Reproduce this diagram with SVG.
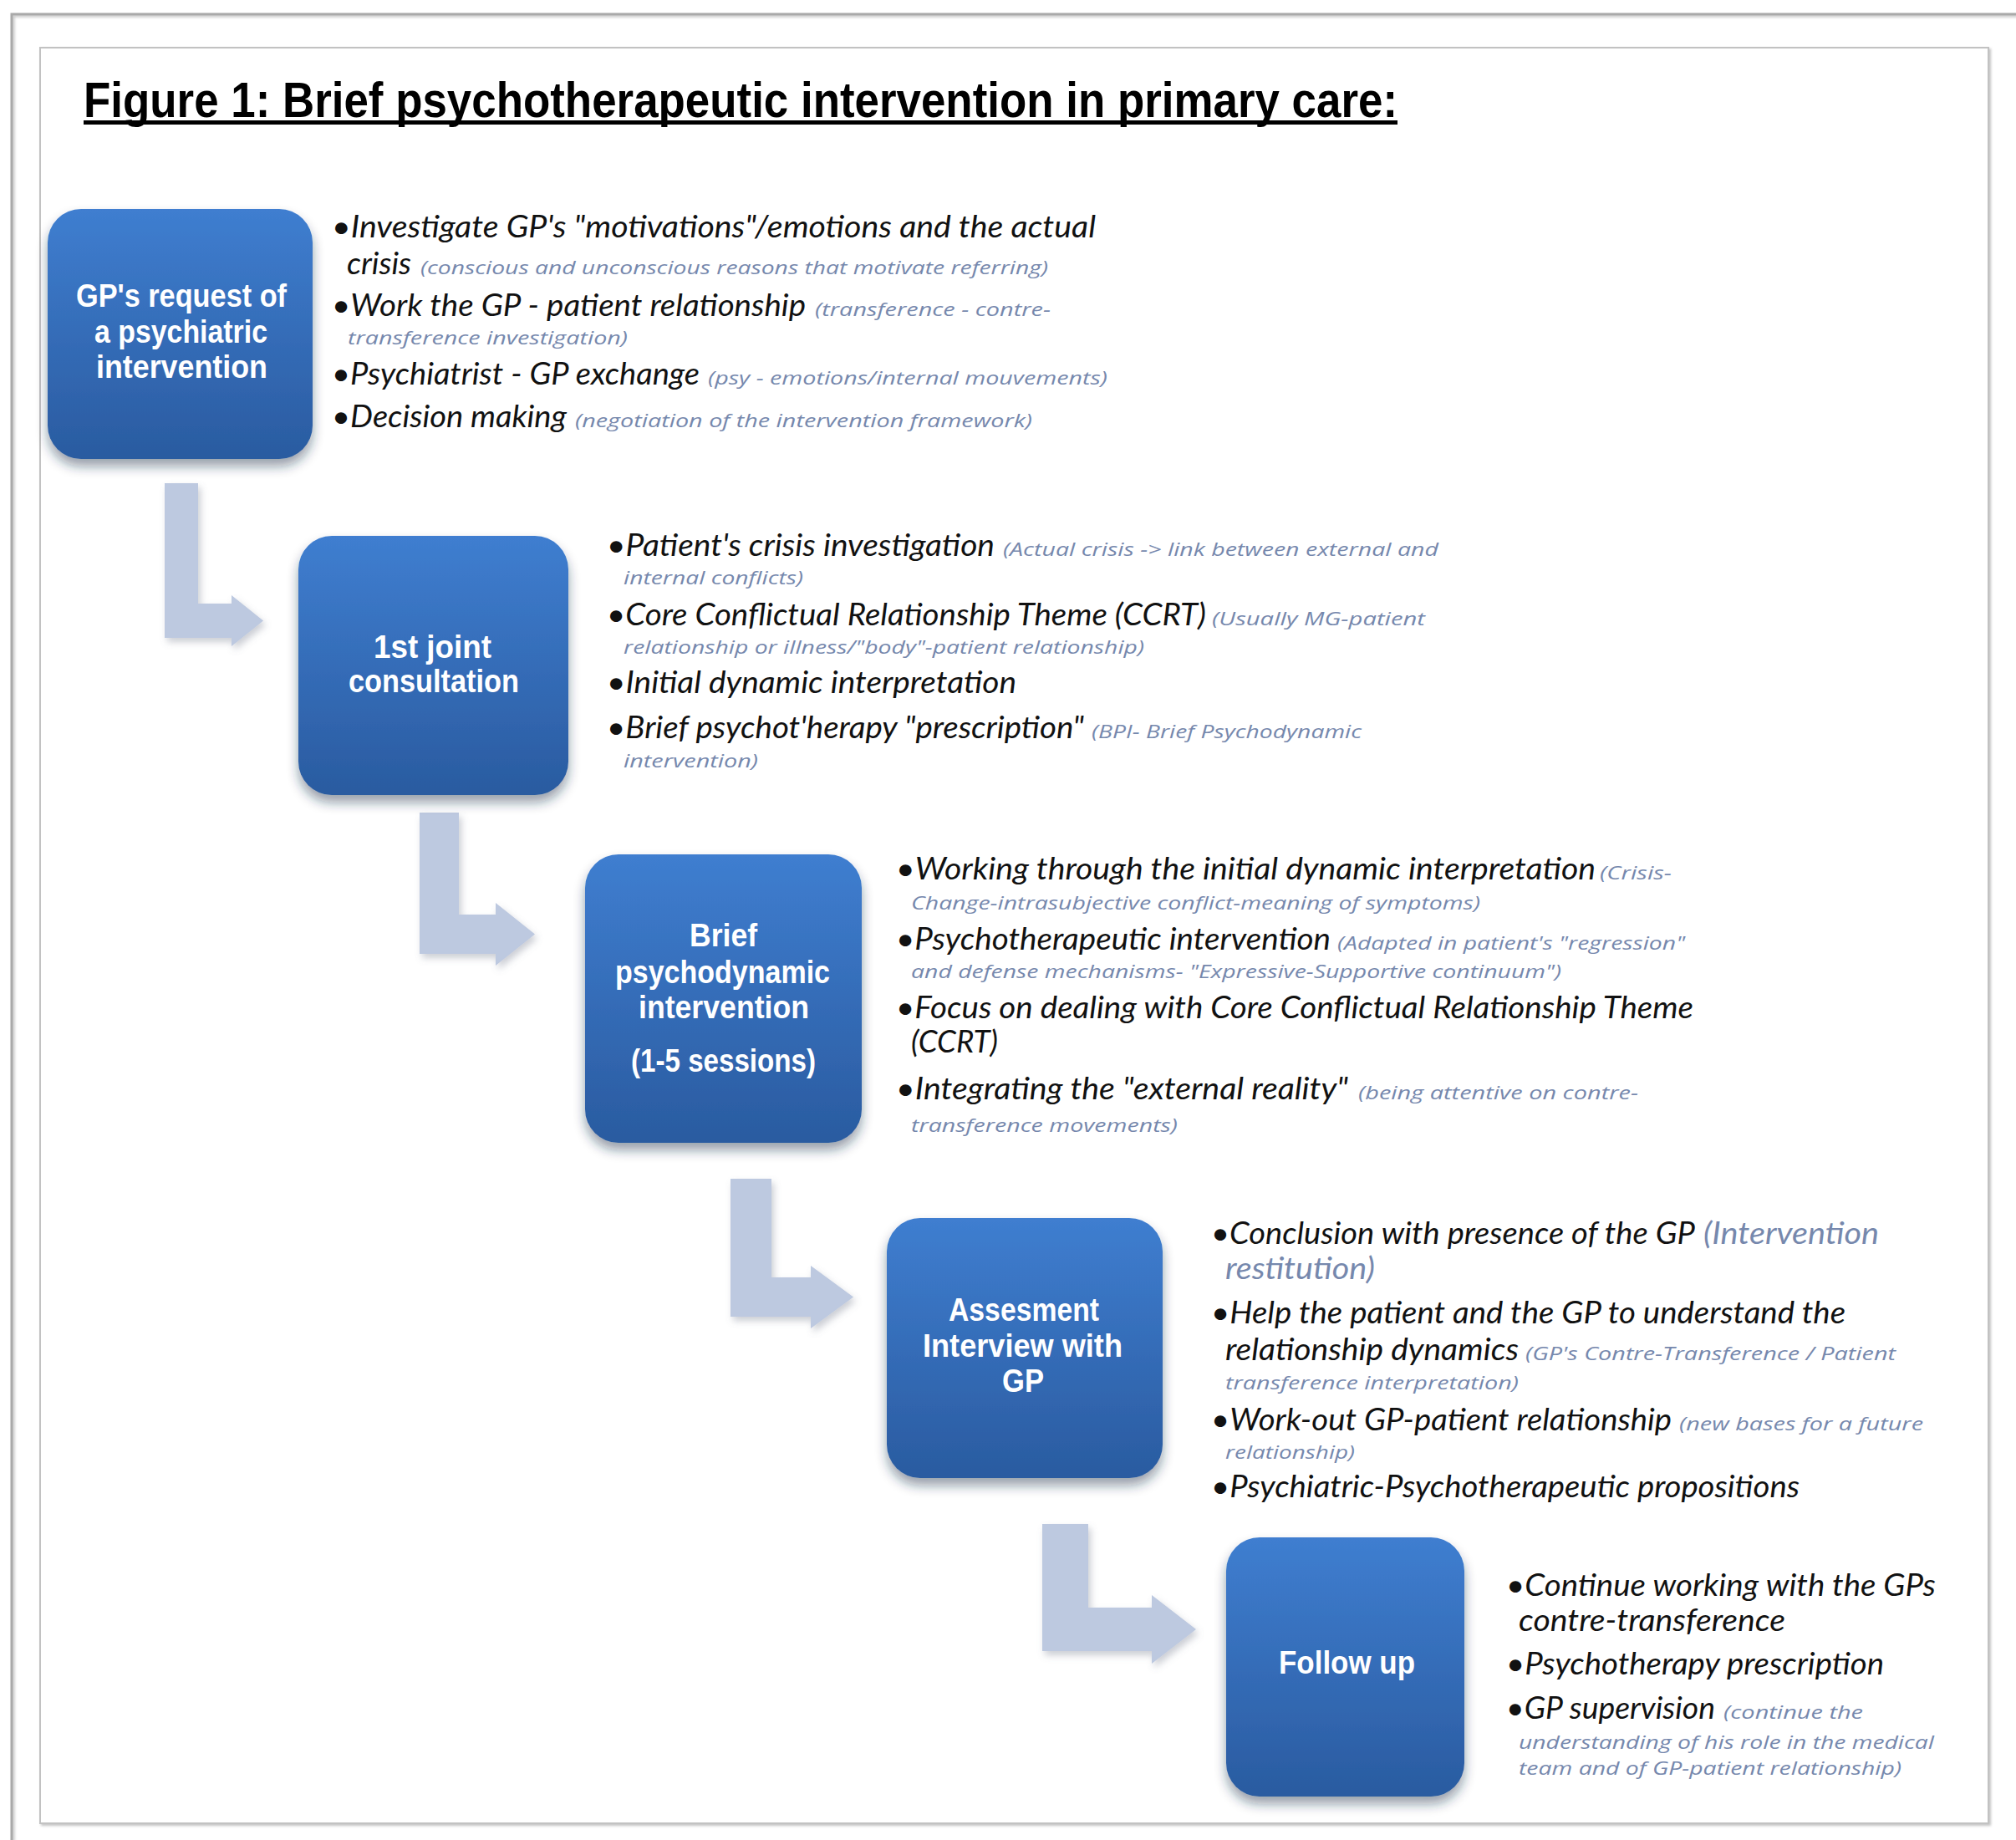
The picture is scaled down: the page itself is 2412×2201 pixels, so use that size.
<svg xmlns="http://www.w3.org/2000/svg" width="2412" height="2201" viewBox="0 0 2412 2201">
<defs>
<linearGradient id="nodeGrad" x1="0" y1="0" x2="0" y2="1">
<stop offset="0" stop-color="#3f7ed0"/>
<stop offset="1" stop-color="#2a5ba0"/>
</linearGradient>
<filter id="nodeShadow" x="-20%" y="-20%" width="140%" height="150%">
<feDropShadow dx="0" dy="9" stdDeviation="7" flood-color="#1a2a44" flood-opacity="0.45"/>
</filter>
<filter id="arrowShadow" x="-20%" y="-20%" width="150%" height="150%">
<feDropShadow dx="3" dy="5" stdDeviation="4" flood-color="#6b7385" flood-opacity="0.35"/>
</filter>
<filter id="frameShadow" x="-2%" y="-2%" width="104%" height="104%">
<feDropShadow dx="2" dy="2" stdDeviation="1.5" flood-color="#888" flood-opacity="0.5"/>
</filter>
</defs>
<style>
.title{font-family:"Liberation Sans",Arial,sans-serif;font-weight:bold;font-size:60px;fill:#000}
.node{fill:url(#nodeGrad);filter:url(#nodeShadow)}
.lbl{font-family:"Liberation Sans",Arial,sans-serif;font-weight:bold;font-size:38px;fill:#fff}
.m{font-family:Lato,"Liberation Sans",sans-serif;font-style:italic;font-size:36px;fill:#111}
.g{font-family:"Open Sans","Liberation Sans",sans-serif;font-style:italic;font-size:21px;fill:#7688ad}
.gl{font-family:Lato,"Liberation Sans",sans-serif;font-style:italic;font-size:36px;fill:#7688ad}
.arrow{fill:#bdc9e0;filter:url(#arrowShadow)}
</style>
<rect x="0" y="0" width="2412" height="2201" fill="#fff"/>
<g id="frame">
<path d="M14,2201 V17 H2412" fill="none" stroke="#a9a9a9" stroke-width="3" filter="url(#frameShadow)"/>
<rect x="48" y="57" width="2331" height="2124" fill="#fff" stroke="#c2c2c2" stroke-width="2" filter="url(#frameShadow)"/>
</g>
<g id="title">
<text class="title" x="100" y="140" textLength="1572" lengthAdjust="spacingAndGlyphs">Figure 1: Brief psychotherapeutic intervention in primary care:</text>
<rect x="100" y="144" width="1572" height="5" fill="#000"/>
</g>
<g id="connectors">
<path class="arrow" d="M197,578 H237 V722 H277 V712 L315,742.5 L277,773 V763 H197 Z"/>
<path class="arrow" d="M502,972 H549 V1094 H593 V1080 L640,1117.5 L593,1155 V1141 H502 Z"/>
<path class="arrow" d="M874,1410 H923 V1528 H970 V1514 L1021,1551.5 L970,1589 V1575 H874 Z"/>
<path class="arrow" d="M1247,1823 H1302 V1923 H1378 V1908 L1431,1949 L1378,1990 V1975 H1247 Z"/>
</g>
<g id="node-1">
<rect class="node" x="57" y="250" width="317" height="299" rx="40"/>
<text class="lbl" x="91" y="367" textLength="252" lengthAdjust="spacingAndGlyphs">GP's request of</text>
<text class="lbl" x="113" y="410" textLength="207" lengthAdjust="spacingAndGlyphs">a psychiatric</text>
<text class="lbl" x="115" y="452" textLength="205" lengthAdjust="spacingAndGlyphs">intervention</text>
<text class="m" x="397" y="284" textLength="914" lengthAdjust="spacingAndGlyphs">•Investigate GP's "motivations"/emotions and the actual</text>
<text class="m" x="415" y="328" textLength="77" lengthAdjust="spacingAndGlyphs">crisis</text>
<text class="g" x="503" y="328" textLength="751" lengthAdjust="spacingAndGlyphs">(conscious and unconscious reasons that motivate referring)</text>
<text class="m" x="397" y="378" textLength="567" lengthAdjust="spacingAndGlyphs">•Work the GP - patient relationship</text>
<text class="g" x="975" y="378" textLength="282" lengthAdjust="spacingAndGlyphs">(transference - contre-</text>
<text class="g" x="416" y="412" textLength="335" lengthAdjust="spacingAndGlyphs">transference investigation)</text>
<text class="m" x="397" y="460" textLength="440" lengthAdjust="spacingAndGlyphs">•Psychiatrist - GP exchange</text>
<text class="g" x="847" y="460" textLength="478" lengthAdjust="spacingAndGlyphs">(psy - emotions/internal mouvements)</text>
<text class="m" x="397" y="511" textLength="281" lengthAdjust="spacingAndGlyphs">•Decision making</text>
<text class="g" x="688" y="511" textLength="547" lengthAdjust="spacingAndGlyphs">(negotiation of the intervention framework)</text>
</g>
<g id="node-2">
<rect class="node" x="357" y="641" width="323" height="310" rx="40"/>
<text class="lbl" x="447" y="787" textLength="141" lengthAdjust="spacingAndGlyphs">1st joint</text>
<text class="lbl" x="417" y="828" textLength="204" lengthAdjust="spacingAndGlyphs">consultation</text>
<text class="m" x="726" y="665" textLength="464" lengthAdjust="spacingAndGlyphs">•Patient's crisis investigation</text>
<text class="g" x="1200" y="665" textLength="521" lengthAdjust="spacingAndGlyphs">(Actual crisis -&gt; link between external and</text>
<text class="g" x="746" y="699" textLength="215" lengthAdjust="spacingAndGlyphs">internal conflicts)</text>
<text class="m" x="726" y="748" textLength="717" lengthAdjust="spacingAndGlyphs">•Core Conflictual Relationship Theme (CCRT)</text>
<text class="g" x="1450" y="748" textLength="255" lengthAdjust="spacingAndGlyphs">(Usually MG-patient</text>
<text class="g" x="746" y="782" textLength="623" lengthAdjust="spacingAndGlyphs">relationship or illness/"body"-patient relationship)</text>
<text class="m" x="726" y="829" textLength="490" lengthAdjust="spacingAndGlyphs">•Initial dynamic interpretation</text>
<text class="m" x="726" y="883" textLength="571" lengthAdjust="spacingAndGlyphs">•Brief psychot'herapy "prescription"</text>
<text class="g" x="1306" y="883" textLength="323" lengthAdjust="spacingAndGlyphs">(BPI- Brief Psychodynamic</text>
<text class="g" x="746" y="918" textLength="161" lengthAdjust="spacingAndGlyphs">intervention)</text>
</g>
<g id="node-3">
<rect class="node" x="700" y="1022" width="331" height="345" rx="40"/>
<text class="lbl" x="825" y="1132" textLength="81" lengthAdjust="spacingAndGlyphs">Brief</text>
<text class="lbl" x="736" y="1176" textLength="257" lengthAdjust="spacingAndGlyphs">psychodynamic</text>
<text class="lbl" x="764" y="1218" textLength="204" lengthAdjust="spacingAndGlyphs">intervention</text>
<text class="lbl" x="755" y="1282" textLength="221" lengthAdjust="spacingAndGlyphs">(1-5 sessions)</text>
<text class="m" x="1072" y="1052" textLength="837" lengthAdjust="spacingAndGlyphs">•Working through the initial dynamic interpretation</text>
<text class="g" x="1914" y="1052" textLength="86" lengthAdjust="spacingAndGlyphs">(Crisis-</text>
<text class="g" x="1090" y="1088" textLength="681" lengthAdjust="spacingAndGlyphs">Change-intrasubjective conflict-meaning of symptoms)</text>
<text class="m" x="1072" y="1136" textLength="520" lengthAdjust="spacingAndGlyphs">•Psychotherapeutic intervention</text>
<text class="g" x="1600" y="1136" textLength="416" lengthAdjust="spacingAndGlyphs">(Adapted in patient's "regression"</text>
<text class="g" x="1090" y="1170" textLength="778" lengthAdjust="spacingAndGlyphs">and defense mechanisms- "Expressive-Supportive continuum")</text>
<text class="m" x="1072" y="1218" textLength="954" lengthAdjust="spacingAndGlyphs">•Focus on dealing with Core Conflictual Relationship Theme</text>
<text class="m" x="1090" y="1259" textLength="104" lengthAdjust="spacingAndGlyphs">(CCRT)</text>
<text class="m" x="1072" y="1315" textLength="541" lengthAdjust="spacingAndGlyphs">•Integrating the "external reality"</text>
<text class="g" x="1625" y="1315" textLength="335" lengthAdjust="spacingAndGlyphs">(being attentive on contre-</text>
<text class="g" x="1090" y="1354" textLength="319" lengthAdjust="spacingAndGlyphs">transference movements)</text>
</g>
<g id="node-4">
<rect class="node" x="1061" y="1457" width="330" height="311" rx="40"/>
<text class="lbl" x="1135" y="1580" textLength="180" lengthAdjust="spacingAndGlyphs">Assesment</text>
<text class="lbl" x="1104" y="1623" textLength="239" lengthAdjust="spacingAndGlyphs">Interview with</text>
<text class="lbl" x="1199" y="1665" textLength="50" lengthAdjust="spacingAndGlyphs">GP</text>
<text class="m" x="1449" y="1488" textLength="579" lengthAdjust="spacingAndGlyphs">•Conclusion with presence of the GP</text>
<text class="gl" x="2038" y="1488" textLength="210" lengthAdjust="spacingAndGlyphs">(Intervention</text>
<text class="gl" x="1466" y="1530" textLength="179" lengthAdjust="spacingAndGlyphs">restitution)</text>
<text class="m" x="1449" y="1583" textLength="759" lengthAdjust="spacingAndGlyphs">•Help the patient and the GP to understand the</text>
<text class="m" x="1466" y="1627" textLength="351" lengthAdjust="spacingAndGlyphs">relationship dynamics</text>
<text class="g" x="1825" y="1627" textLength="443" lengthAdjust="spacingAndGlyphs">(GP's Contre-Transference / Patient</text>
<text class="g" x="1466" y="1662" textLength="351" lengthAdjust="spacingAndGlyphs">transference interpretation)</text>
<text class="m" x="1449" y="1711" textLength="551" lengthAdjust="spacingAndGlyphs">•Work-out GP-patient relationship</text>
<text class="g" x="2009" y="1711" textLength="292" lengthAdjust="spacingAndGlyphs">(new bases for a future</text>
<text class="g" x="1466" y="1745" textLength="155" lengthAdjust="spacingAndGlyphs">relationship)</text>
<text class="m" x="1449" y="1791" textLength="704" lengthAdjust="spacingAndGlyphs">•Psychiatric-Psychotherapeutic propositions</text>
</g>
<g id="node-5">
<rect class="node" x="1467" y="1839" width="285" height="310" rx="40"/>
<text class="lbl" x="1530" y="2002" textLength="163" lengthAdjust="spacingAndGlyphs">Follow up</text>
<text class="m" x="1802" y="1909" textLength="514" lengthAdjust="spacingAndGlyphs">•Continue working with the GPs</text>
<text class="m" x="1817" y="1951" textLength="319" lengthAdjust="spacingAndGlyphs">contre-transference</text>
<text class="m" x="1802" y="2003" textLength="452" lengthAdjust="spacingAndGlyphs">•Psychotherapy prescription</text>
<text class="m" x="1802" y="2056" textLength="250" lengthAdjust="spacingAndGlyphs">•GP supervision</text>
<text class="g" x="2062" y="2056" textLength="167" lengthAdjust="spacingAndGlyphs">(continue the</text>
<text class="g" x="1817" y="2092" textLength="497" lengthAdjust="spacingAndGlyphs">understanding of his role in the medical</text>
<text class="g" x="1817" y="2123" textLength="458" lengthAdjust="spacingAndGlyphs">team and of GP-patient relationship)</text>
</g>
</svg>
